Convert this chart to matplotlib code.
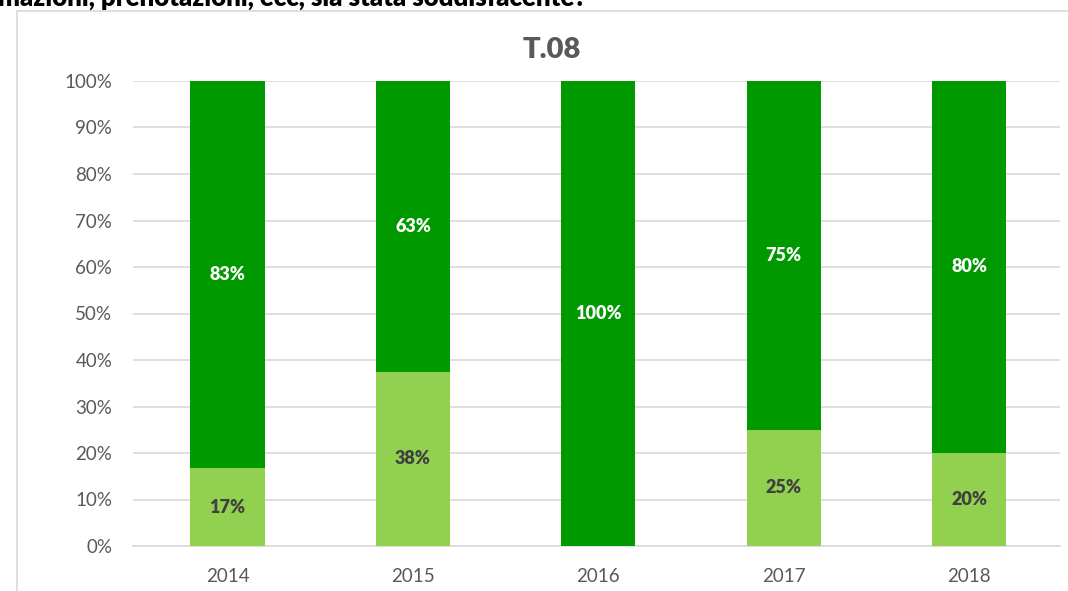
import matplotlib.pyplot as plt
import numpy as np
from matplotlib.patches import Rectangle

plt.rcParams['font.family'] = ['Lato', 'DejaVu Sans']

# dati
years = ['2014', '2015', '2016', '2017', '2018']
low = [16.7, 37.5, 0.0, 25.0, 20.0]
high = [83.3, 62.5, 100.0, 75.0, 80.0]
low_labels = ['17%', '38%', '', '25%', '20%']
high_labels = ['83%', '63%', '100%', '75%', '80%']
yticks = [0, 10, 20, 30, 40, 50, 60, 70, 80, 90, 100]

dark = '#009900'
light = '#92D050'
grey = '#595959'

fig = plt.figure(figsize=(10.68, 5.91), dpi=100)
ax = fig.add_axes([133 / 1068, 1 - 546 / 591, 927 / 1068, 465 / 591])

# cornice del grafico
fig.patches.append(Rectangle((17 / 1068, -0.1), 1.2, 1 - 11 / 591 + 0.1,
                             transform=fig.transFigure, fill=False,
                             edgecolor='#d9d9d9', linewidth=1.2))

# testo della domanda tagliato in alto (come nell'originale)
fig.text(-0.002, 1 - 6 / 591, 'mazioni, prenotazioni, ecc, sia stata soddisfacente?',
         fontsize=18.5, fontweight='heavy', color='black', va='baseline', ha='left')

x = np.arange(len(years))
w = 0.4
ax.bar(x, low, w, color=light, zorder=3)
ax.bar(x, high, w, bottom=low, color=dark, zorder=3)

for i in range(len(years)):
    if low_labels[i]:
        ax.text(x[i], low[i] / 2, low_labels[i], ha='center', va='center',
                fontsize=13, fontweight='heavy', color='#404040', zorder=4)
    ax.text(x[i], low[i] + high[i] / 2, high_labels[i], ha='center', va='center',
            fontsize=13, fontweight='heavy', color='white', zorder=4)

ax.set_xlim(-0.51, 4.49)
ax.set_ylim(0, 100)
ax.set_yticks(yticks)
ax.set_yticklabels([f'{t}%' for t in yticks])
ax.set_xticks(x)
ax.set_xticklabels(years)
ax.tick_params(length=0, colors=grey, labelsize=13.5)
ax.tick_params(axis='y', pad=15)
ax.tick_params(axis='x', pad=16)
ax.yaxis.grid(True, color='#d9d9d9', linewidth=1.2, zorder=0)
ax.set_axisbelow(True)
for s in ['top', 'right', 'left']:
    ax.spines[s].set_visible(False)
ax.spines['bottom'].set_color('#d9d9d9')
ax.spines['bottom'].set_linewidth(1.2)

fig.text(552 / 1068, 1 - 50 / 591, 'T.08', fontsize=21, fontweight='heavy',
         color=grey, ha='center', va='center')

fig.savefig('out.png', dpi=100)
